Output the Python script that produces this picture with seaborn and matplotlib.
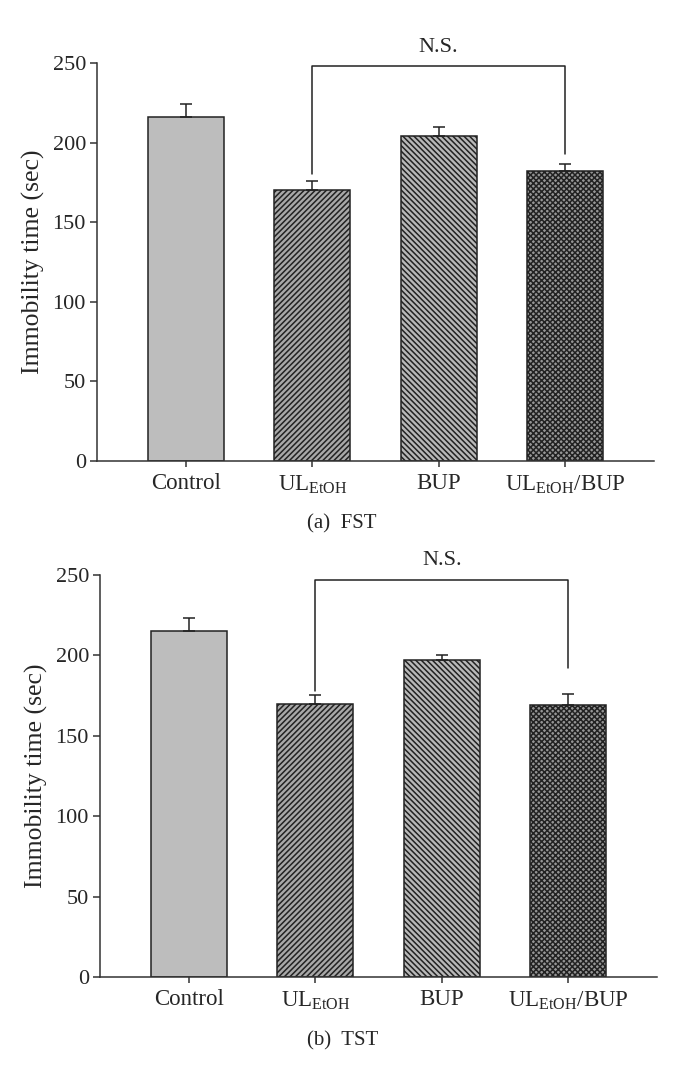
import numpy as np
import pandas as pd
import seaborn as sns
import matplotlib
matplotlib.use("Agg")
import matplotlib.pyplot as plt

# data
groups = ["Control", "UL$_{\\mathrm{EtOH}}$", "BUP", "UL$_{\\mathrm{EtOH}}$/BUP"]
fst_mean = [216, 170, 204, 182]
fst_sem = [8.5, 6, 6, 4.5]
tst_mean = [215, 170, 197, 169]
tst_sem = [8.5, 5.5, 3, 7]

# N.S. bracket: [left bar, right bar], top, left leg end, right leg end
bracket_bars = [1, 3]
fst_bracket = [248, 180, 193]
tst_bracket = [247, 178, 192]
panel_tags = ["(a)  FST", "(b)  TST"]

colors = ["#bdbdbd", "#a8a8a8", "#b8b8b8", "#959595"]
hatches = [None, "//////", "\\\\\\\\\\\\", "xxxxxx"]

sns.set_theme(style="ticks")
plt.rcParams["font.family"] = ["Liberation Serif", "DejaVu Serif"]
plt.rcParams["mathtext.fontset"] = "custom"
plt.rcParams["mathtext.rm"] = "Liberation Serif"
plt.rcParams["hatch.linewidth"] = 1.1
plt.rcParams["hatch.color"] = "#1a1a1a"

fig = plt.figure(figsize=(6.87, 10.71), dpi=100)
ax_top = fig.add_axes([0.1412, 0.5696, 0.8108, 0.3716])
ax_bot = fig.add_axes([0.1456, 0.0878, 0.8108, 0.3754])

panels = [
    (ax_top, fst_mean, fst_sem, fst_bracket, 0.511),
    (ax_bot, tst_mean, tst_sem, tst_bracket, 0.028),
]

for i, (ax, mean, sem, br, tag_y) in enumerate(panels):
    df = pd.DataFrame({"group": groups, "time": mean})
    sns.barplot(data=df, x="group", y="time", hue="group", palette=colors,
                legend=False, width=0.6, edgecolor="#222222", linewidth=1.1,
                errorbar=None, ax=ax)
    for patch, h in zip(ax.patches, hatches):
        if h:
            patch.set_hatch(h)

    xs = np.arange(len(groups))
    ax.errorbar(xs, mean, yerr=[np.zeros(len(sem)), sem], fmt="none",
                ecolor="#222222", elinewidth=1.1, capsize=4.3, capthick=1.1,
                zorder=1)

    # N.S. bracket
    x0, x1 = bracket_bars
    ax.plot([x0, x0, x1, x1], [br[1], br[0], br[0], br[2]], color="#222222",
            lw=1.1, clip_on=False)
    ax.text((x0 + x1) / 2, br[0] + 6, "N.S.", ha="center", va="bottom",
            fontsize=16)

    ax.set_xlim(-0.705, 3.705)
    ax.set_ylim(0, 250)
    ax.set_yticks([0, 50, 100, 150, 200, 250])
    ax.set_xlabel("")
    ax.set_ylabel("Immobility time (sec)", fontsize=18.5)
    ax.yaxis.set_label_coords(-0.093, 0.5)
    ax.tick_params(axis="y", labelsize=16, length=5, width=1.1, color="#333333",
                   pad=3)
    ax.tick_params(axis="x", labelsize=16.5, length=4, width=1.1, color="#333333",
                   pad=5)
    for s in ["left", "bottom"]:
        ax.spines[s].set_linewidth(1.1)
        ax.spines[s].set_color("#333333")
    sns.despine(ax=ax)

    fig.text(0.498, tag_y, panel_tags[i], ha="center", va="center", fontsize=15)

fig.savefig("out.png", dpi=100)
